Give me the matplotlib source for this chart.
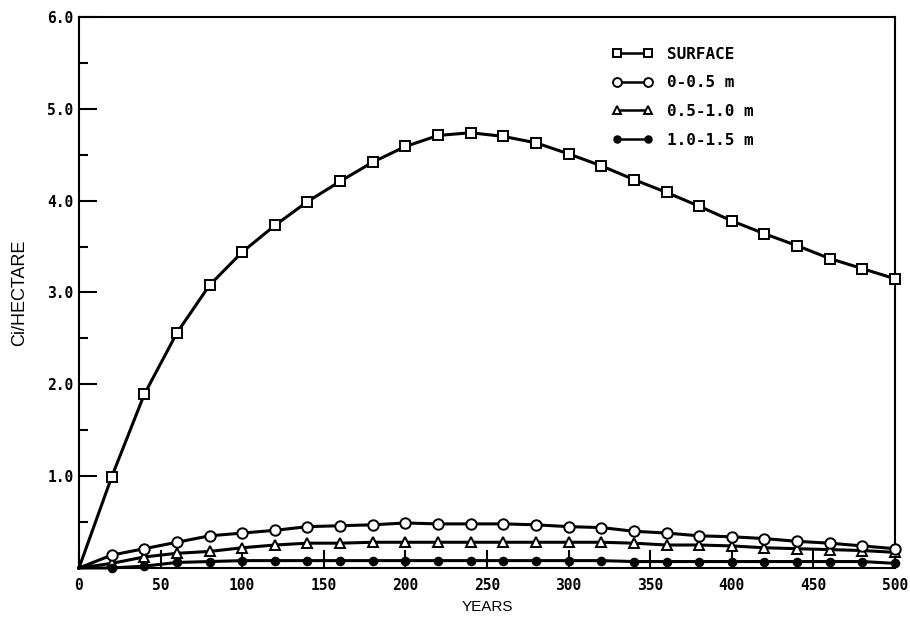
import numpy as np
import matplotlib
matplotlib.use('Agg')
import matplotlib.pyplot as plt
from matplotlib.ticker import MultipleLocator

# years sampled every 20 yr, 0..500
years = np.arange(0, 501, 20)

surface = [0.00, 0.99, 1.89, 2.56, 3.08, 3.44, 3.73, 3.99, 4.21, 4.42,
           4.59, 4.71, 4.74, 4.70, 4.63, 4.51, 4.38, 4.23, 4.09, 3.94,
           3.78, 3.64, 3.51, 3.37, 3.26, 3.15]
d0_05 = [0.00, 0.14, 0.21, 0.28, 0.35, 0.38, 0.41, 0.45, 0.46, 0.47,
         0.49, 0.48, 0.48, 0.48, 0.47, 0.45, 0.44, 0.40, 0.38, 0.35,
         0.34, 0.32, 0.29, 0.27, 0.24, 0.21]
d05_10 = [0.00, 0.05, 0.12, 0.16, 0.18, 0.22, 0.25, 0.27, 0.27, 0.28,
          0.28, 0.28, 0.28, 0.28, 0.28, 0.28, 0.28, 0.27, 0.25, 0.25,
          0.24, 0.22, 0.21, 0.20, 0.19, 0.17]
d10_15 = [0.00, 0.00, 0.02, 0.06, 0.07, 0.08, 0.08, 0.08, 0.08, 0.08,
          0.08, 0.08, 0.08, 0.08, 0.08, 0.08, 0.08, 0.07, 0.07, 0.07,
          0.07, 0.07, 0.07, 0.07, 0.07, 0.05]

labels = ['SURFACE', '0-0.5 m', '0.5-1.0 m', '1.0-1.5 m']
x_ticks = [0, 50, 100, 150, 200, 250, 300, 350, 400, 450, 500]
y_ticks = [1.0, 2.0, 3.0, 4.0, 5.0, 6.0]

mono = 'DejaVu Sans Mono'

fig = plt.figure(figsize=(9.1, 6.26), dpi=100)
ax = fig.add_axes([0.0868, 0.0927, 0.8967, 0.8801])

lw = 2.2
mew = 1.4
ax.plot(years, surface, '-', color='black', lw=lw, marker='s', ms=7.5,
        mfc='white', mec='black', mew=mew, markevery=slice(1, None),
        label=labels[0], clip_on=False, zorder=5)
ax.plot(years, d0_05, '-', color='black', lw=lw, marker='o', ms=7.5,
        mfc='white', mec='black', mew=mew, markevery=slice(1, None),
        label=labels[1], clip_on=False, zorder=4)
ax.plot(years, d05_10, '-', color='black', lw=lw, marker='^', ms=7,
        mfc='white', mec='black', mew=mew, markevery=slice(1, None),
        label=labels[2], clip_on=False, zorder=3)
ax.plot(years, d10_15, '-', color='black', lw=lw, marker='o', ms=5.5,
        mfc='black', mec='black', mew=mew, markevery=slice(1, None),
        label=labels[3], clip_on=False, zorder=3)

ax.set_xlim(0, 500)
ax.set_ylim(0, 6.0)
ax.set_xticks(x_ticks)
ax.set_xticklabels([str(v) for v in x_ticks])
ax.set_yticks(y_ticks)
ax.set_yticklabels(['%.1f' % v for v in y_ticks])
ax.yaxis.set_minor_locator(MultipleLocator(0.5))

ax.tick_params(axis='both', which='major', direction='in', length=13,
               width=1.5, colors='black')
ax.tick_params(axis='y', which='minor', direction='in', length=6.5, width=1.5)
ax.tick_params(axis='x', pad=7)
ax.tick_params(axis='y', pad=4)
for lab in ax.get_xticklabels() + ax.get_yticklabels():
    lab.set_family(mono)
    lab.set_fontweight('bold')
    lab.set_fontsize(10.5)

for s in ax.spines.values():
    s.set_linewidth(1.5)

ax.set_xlabel('YEARS', family='Liberation Sans', fontsize=11, labelpad=5)
ax.set_ylabel('Ci/HECTARE', family='Liberation Sans', fontsize=13, labelpad=14)

leg = ax.legend(loc='upper left', bbox_to_anchor=(0.654, 0.946), frameon=False,
                numpoints=2, borderpad=0, borderaxespad=0,
                handlelength=2.5, handletextpad=0.9, labelspacing=0.85,
                prop={'family': mono, 'weight': 'bold', 'size': 11.5})
for h in leg.legend_handles:
    h.set_markersize(h.get_markersize() * 0.85)
    h.set_linewidth(1.8)

fig.savefig('out.png', dpi=100, facecolor='white')
